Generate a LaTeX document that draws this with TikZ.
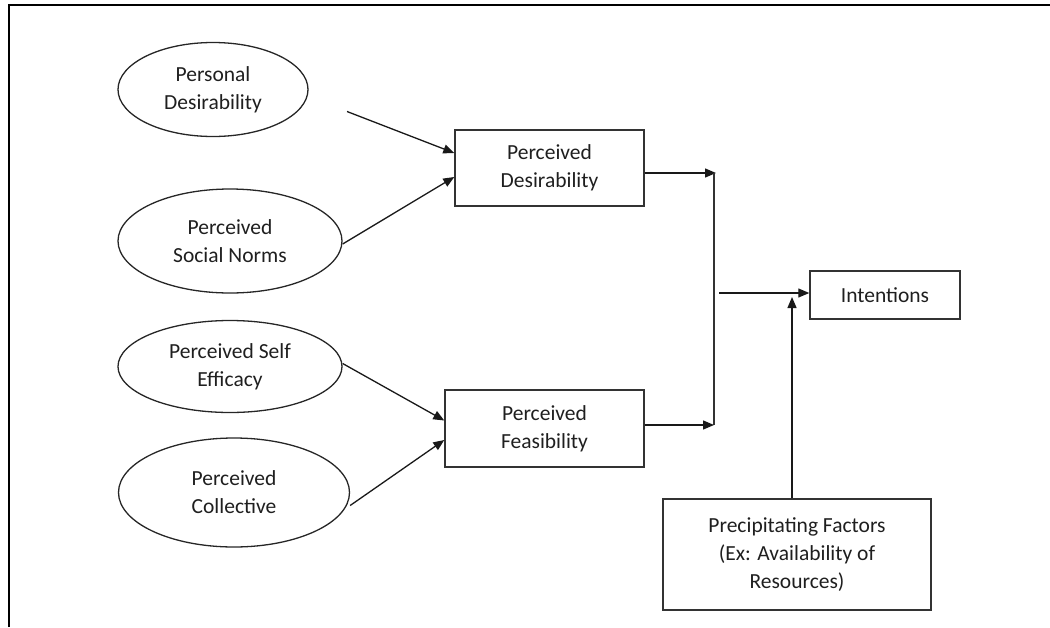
\documentclass[tikz,border=0pt]{standalone}
\usepackage{fontspec}
\setmainfont{Carlito}
\usetikzlibrary{shapes.geometric,arrows.meta,calc}

\tikzset{
  lbl/.style={font=\fontsize{21.5}{28}\selectfont, text=black!88, align=center},
  oval/.style={lbl, ellipse, draw=black!85, line width=1.3pt, inner sep=0pt},
  box/.style={lbl, rectangle, draw=black!80, line width=1.4pt, inner sep=0pt},
  arr/.style={draw=black!90, line width=1.3pt, -{Triangle[length=11pt,width=9pt]}},
  link/.style={draw=black!80, line width=1.4pt},
}

\begin{document}
\begin{tikzpicture}[x=1pt,y=-1pt]
  \useasboundingbox (0,0) rectangle (1050,627);

  % open frame: left and top edges only
  \draw[line width=2.6pt] (9,627) -- (9,5) -- (1050,5);

  % antecedent attitudes
  \node[oval, minimum width=190pt, minimum height=94pt]  (pers)  at (213,89.5)  {Personal\\Desirability};
  \node[oval, minimum width=224pt, minimum height=104pt] (norms) at (230,241)   {Perceived\\Social Norms};
  \node[oval, minimum width=224pt, minimum height=92pt]  (self)  at (230,366.5) {Perceived Self\\Efficacy};
  \node[oval, minimum width=231pt, minimum height=109pt] (coll)  at (234,492.5) {Perceived\\Collective};

  % perceptions
  \node[box, minimum width=189pt, minimum height=76pt]  (desir) at (549.5,168)   {Perceived\\Desirability};
  \node[box, minimum width=199pt, minimum height=77pt]  (feas)  at (544.5,428.5) {Perceived\\Feasibility};

  % outcome and moderator
  \node[box, minimum width=150pt, minimum height=48pt]  (intent) at (885,295)   {Intentions};
  \node[box, minimum width=268pt, minimum height=111pt] (precip) at (797,554.5) {Precipitating Factors\\(Ex: Availability of\\Resources)};

  % junction points on the collecting line
  \coordinate (jtop) at (714,173);
  \coordinate (jbot) at (714,425);
  \coordinate (jmid) at (719,293);
  \coordinate (ptip) at (792,297);

  % attitudes into perceptions
  \draw[arr] ($(pers.center)+(134,22)$) -- ($(desir.west)+(0,-15)$);
  \draw[arr] ($(norms.east)+(0,3)$) -- ($(desir.west)+(0,9)$);
  \draw[arr] ($(self.east)+(0,-3)$) -- ($(feas.west)+(0,-8)$);
  \draw[arr] ($(coll.east)+(0,13)$) -- ($(feas.west)+(0,11.5)$);

  % perceptions into the collecting line
  \draw[arr] ($(desir.east)+(0,5)$) -- ($(jtop)+(2,0)$);
  \draw[link] (jtop) -- (jbot);
  \draw[arr] ($(feas.east)+(0,-3.5)$) -- (jbot);

  % collecting line into intentions
  \draw[arr] (jmid) -- ($(intent.west)+(0,-2)$);

  % precipitating factors into intentions
  \draw[arr] ($(precip.north)+(-5,0)$) -- (ptip);
\end{tikzpicture}
\end{document}
